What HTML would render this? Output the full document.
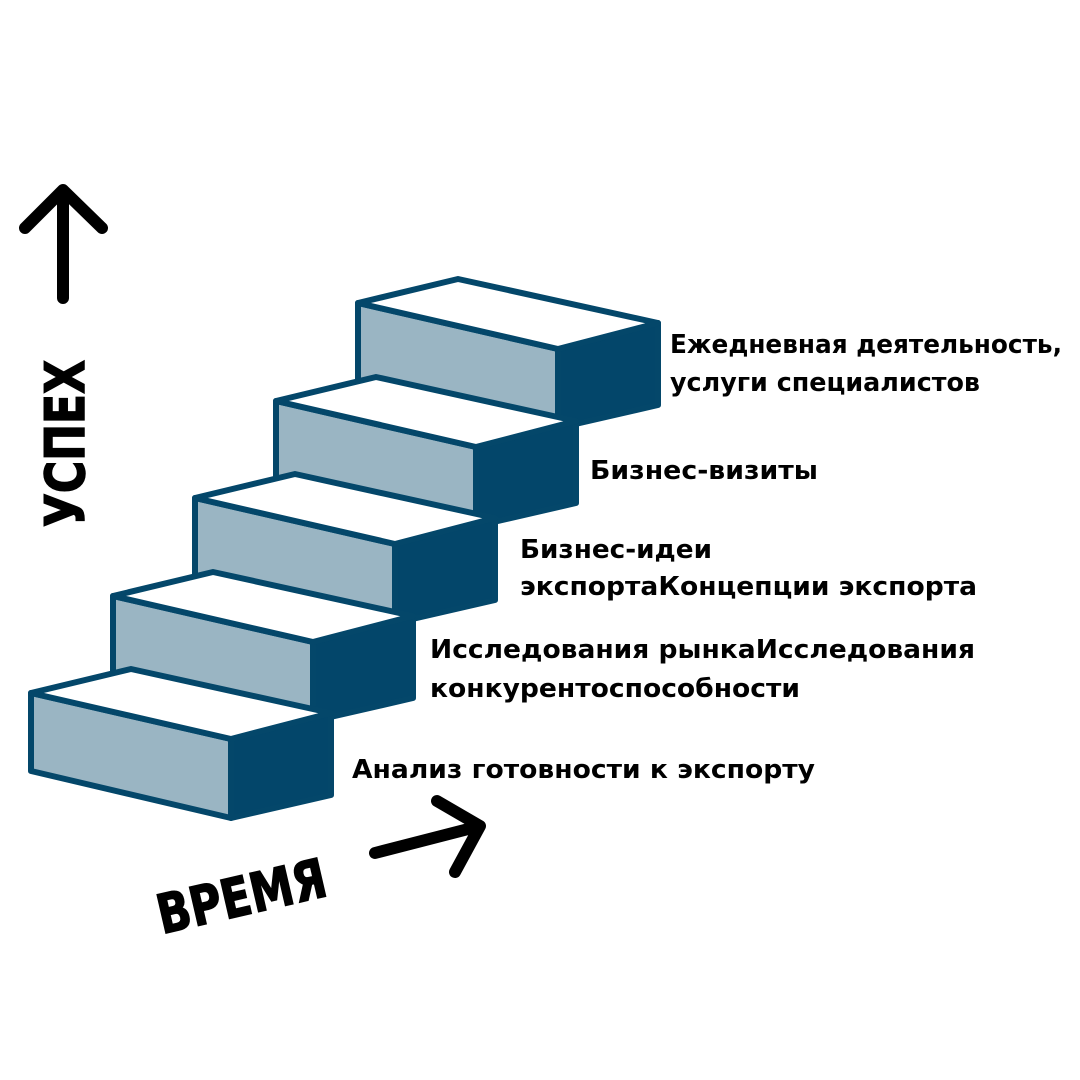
<!DOCTYPE html>
<html><head><meta charset="utf-8"><style>
html,body{margin:0;padding:0;background:#fff;}
svg{display:block;}
text{font-family:"DejaVu Sans","Liberation Sans",sans-serif;font-weight:bold;fill:#000;}
</style></head><body>
<svg width="1080" height="1080" viewBox="0 0 1080 1080">
<defs>
<g id="step" stroke="#04476a" stroke-width="6" stroke-linejoin="round">
<polygon points="200,46 300,20 300,102 200,125" fill="#03466a"/>
<polygon points="0,0 200,46 200,125 0,78" fill="#9ab5c3"/>
<polygon points="0,0 100,-24 300,20 200,46" fill="#fff"/>
</g>
</defs>
<use href="#step" x="358" y="303"/>
<use href="#step" x="276" y="401"/>
<use href="#step" x="195" y="498"/>
<use href="#step" x="113" y="596"/>
<use href="#step" x="31" y="693"/>

<text x="670" y="353" font-size="26" textLength="392" lengthAdjust="spacingAndGlyphs">Ежедневная деятельность,</text>
<text x="670" y="391" font-size="26" textLength="310" lengthAdjust="spacingAndGlyphs">услуги специалистов</text>
<text x="590" y="479" font-size="26" textLength="228" lengthAdjust="spacingAndGlyphs">Бизнес-визиты</text>
<text x="520" y="558" font-size="26" textLength="192" lengthAdjust="spacingAndGlyphs">Бизнес-идеи</text>
<text x="520" y="595" font-size="26" textLength="457" lengthAdjust="spacingAndGlyphs">экспортаКонцепции экспорта</text>
<text x="430" y="658" font-size="26" textLength="545" lengthAdjust="spacingAndGlyphs">Исследования рынкаИсследования</text>
<text x="430" y="697" font-size="26" textLength="370" lengthAdjust="spacingAndGlyphs">конкурентоспособности</text>
<text x="352" y="778" font-size="26" textLength="463" lengthAdjust="spacingAndGlyphs">Анализ готовности к экспорту</text>

<g stroke="#000" stroke-width="12" stroke-linecap="round" stroke-linejoin="round" fill="none">
<path d="M63,298 L63,192 M25,228 L63,190 L102,228"/>
<path d="M375,853 L480,826 M437,801 L480,826 L455,872"/>
</g>
<text transform="translate(84,527) rotate(-90)" font-size="54" stroke="#000" stroke-width="1.5" textLength="167" lengthAdjust="spacingAndGlyphs">УСПЕХ</text>
<text transform="translate(162,934) rotate(-13)" font-size="54" stroke="#000" stroke-width="1.5" textLength="172" lengthAdjust="spacingAndGlyphs">ВРЕМЯ</text>
</svg>
</body></html>
